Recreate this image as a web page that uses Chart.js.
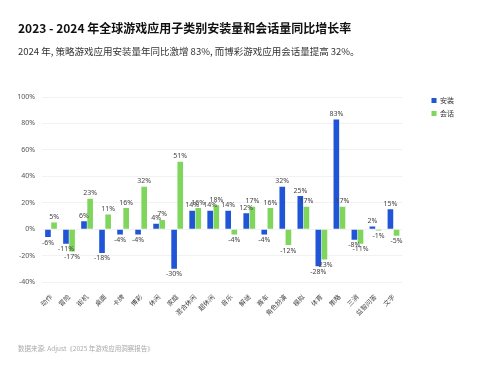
<!DOCTYPE html>
<html><head><meta charset="utf-8">
<script src="https://cdn.jsdelivr.net/npm/chart.js@4.4.0/dist/chart.umd.min.js"></script>
<style>
html,body{margin:0;padding:0;background:#fff;width:494px;height:368px;overflow:hidden;font-family:"Noto Sans CJK SC","Noto Sans",sans-serif;}
#title{position:absolute;left:18px;top:19px;font-size:12px;font-weight:bold;color:#111;white-space:nowrap;}
#sub{position:absolute;left:18px;top:44px;font-size:9.5px;color:#333;white-space:nowrap;}
#src{position:absolute;left:18px;top:343px;font-size:6.5px;color:#aaa;white-space:nowrap;}
#wrap{position:absolute;left:0;top:0;width:494px;height:368px;}
</style></head><body>
<div id="wrap"><canvas id="c" width="494" height="368"></canvas></div>
<div id="title">2023 - 2024 年全球游戏应用子类别安装量和会话量同比增长率</div>
<div id="sub">2024 年, 策略游戏应用安装量年同比激增 83%, 而博彩游戏应用会话量提高 32%。</div>
<div id="src">数据来源: Adjust《2025 年游戏应用洞察报告》</div>
<script>
const categories = ["动作","冒险","街机","桌面","卡牌","博彩","休闲","家庭","混合休闲","超休闲","音乐","解谜","赛车","角色扮演","模拟","体育","策略","三消","益智问答","文字"];
const installs = [-6,-11,6,-18,-4,-4,4,-30,14,14,14,12,-4,32,25,-28,83,-8,2,15];
const sessions = [5,-17,23,11,16,32,7,51,16,18,-4,17,16,-12,17,-23,17,-11,-1,-5];
const yTicks = [100,80,60,40,20,0,-20,-40];

const labelPlugin = {
  id:'vals',
  afterDatasetsDraw(chart){
    const ctx = chart.ctx;
    ctx.save();
    ctx.font = '7px "Noto Sans", sans-serif';
    ctx.fillStyle = '#444';
    ctx.textAlign = 'center';
    chart.data.datasets.forEach((ds,i)=>{
      const meta = chart.getDatasetMeta(i);
      meta.data.forEach((bar,j)=>{
        const v = ds.data[j];
        if (v >= 0){ ctx.textBaseline='bottom'; ctx.fillText(v+'%', bar.x, bar.y-2); }
        else { ctx.textBaseline='top'; ctx.fillText(v+'%', bar.x, bar.y+2); }
      });
    });
    ctx.restore();
  }
};

new Chart(document.getElementById('c'), {
  type:'bar',
  data:{
    labels:categories,
    datasets:[
      {label:'安装', data:installs, backgroundColor:'#1f55d6', barPercentage:0.92, categoryPercentage:0.68},
      {label:'会话', data:sessions, backgroundColor:'#80d65c', barPercentage:0.92, categoryPercentage:0.68}
    ]
  },
  options:{
    responsive:false, animation:false,
    layout:{padding:{top:91,left:0,right:30,bottom:36}},
    plugins:{
      legend:{position:'right', align:'start',
        labels:{boxWidth:5, boxHeight:5, padding:6, color:'#333', font:{size:7, family:'"Noto Sans CJK SC", sans-serif'}}},
      tooltip:{enabled:false}
    },
    scales:{
      x:{
        grid:{display:false}, border:{display:false},
        ticks:{minRotation:45, maxRotation:45, autoSkip:false, color:'#444', padding:3, font:{size:6.5, family:'"Noto Sans CJK SC", sans-serif'}},
        afterFit(s){ s.height = 50; }
      },
      topPad:{
        type:'category', position:'top', display:true, grid:{display:false}, border:{display:false},
        ticks:{display:false}, afterFit(s){ s.height = 6; }
      },
      y:{
        min:-40, max:100,
        afterBuildTicks(s){ s.ticks = yTicks.map(v=>({value:v})); },
        grid:{color:'#f2f2f2', drawTicks:false}, border:{display:false},
        ticks:{color:'#555', padding:7, font:{size:7, family:'"Noto Sans", sans-serif'}, callback:v=>v+'%'},
        afterFit(s){ s.width = 42; }
      },
      pad:{
        position:'right', display:true, grid:{display:false}, border:{display:false},
        ticks:{display:false}, afterFit(s){ s.width = 23; }
      }
    }
  },
  plugins:[labelPlugin]
});
</script>
</body></html>
